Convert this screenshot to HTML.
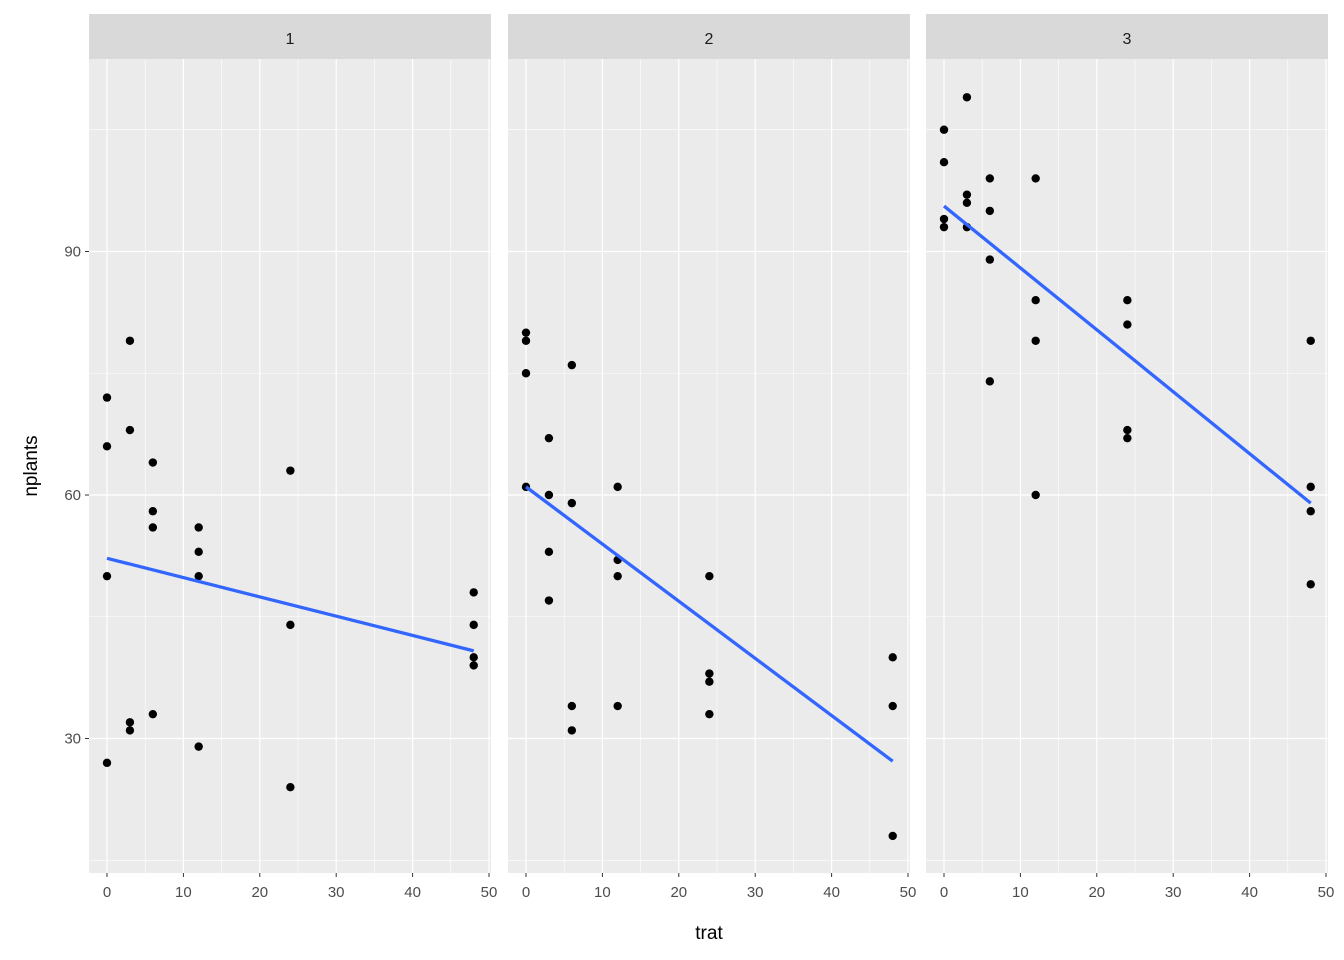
<!DOCTYPE html>
<html><head><meta charset="utf-8"><style>body{margin:0;background:#fff}svg{display:block;font-family:"Liberation Sans",sans-serif}</style></head>
<body>
<svg id="c" width="1344" height="960"></svg>
<script>
const facets=["1","2","3"];
const xTicks=[0,10,20,30,40,50];
const yTicks=[30,60,90];
const xs1=[0,0,0,0,3,3,3,3,6,6,6,6,12,12,12,12,24,24,24,48,48,48,48];
const ys1=[72,66,50,27,79,68,32,31,64,58,56,33,56,53,50,29,63,44,24,48,44,40,39];
const xs2=[0,0,0,0,3,3,3,3,6,6,6,6,12,12,12,12,24,24,24,24,48,48,48];
const ys2=[80,79,75,61,67,60,53,47,76,59,34,31,61,52,50,34,50,38,37,33,40,34,18];
const xs3=[0,0,0,0,3,3,3,3,6,6,6,6,12,12,12,12,24,24,24,24,48,48,48,48];
const ys3=[105,101,94,93,109,97,96,93,99,95,89,74,99,84,79,60,84,81,68,67,79,61,58,49];
const fitStart=[52.2,61,95.6];
const fitEnd=[40.8,27.2,59];
const seriesX=[xs1,xs2,xs3], seriesY=[ys1,ys2,ys3];
const NS="http://www.w3.org/2000/svg";
const svg=document.getElementById('c');
function mk(t,a,p){const e=document.createElementNS(NS,t);for(const k in a)e.setAttribute(k,a[k]);(p||svg).appendChild(e);return e;}
const panelL=[89,508,926], PW=402, plotTop=59, plotBot=873;
function X(i,v){return panelL[i]+18+v*7.64;}
function Y(v){return 495-(v-60)*8.117;}
facets.forEach((f,i)=>{
  const g=mk('g',{});
  
  
  const L=panelL[i];
  const bg=mk('rect',{x:L,y:plotTop,width:PW,height:plotBot-plotTop,fill:'#ebebeb'},g);
  
  
  [15,45,75,105].forEach(v=>{const l=mk('line',{x1:L,x2:L+PW,y1:Y(v),y2:Y(v),stroke:'#fff','stroke-width':0.6},g);});
  [5,15,25,35,45].forEach(v=>{const l=mk('line',{x1:X(i,v),x2:X(i,v),y1:plotTop,y2:plotBot,stroke:'#fff','stroke-width':0.6},g);});
  yTicks.forEach(v=>{const l=mk('line',{x1:L,x2:L+PW,y1:Y(v),y2:Y(v),stroke:'#fff','stroke-width':1.2},g);});
  xTicks.forEach(v=>{const l=mk('line',{x1:X(i,v),x2:X(i,v),y1:plotTop,y2:plotBot,stroke:'#fff','stroke-width':1.2},g);
    const tk=mk('line',{x1:X(i,v),x2:X(i,v),y1:plotBot,y2:plotBot+4,stroke:'#333','stroke-width':1},g);
    const t=mk('text',{x:X(i,v),y:plotBot+24,'text-anchor':'middle','font-size':15,fill:'#4d4d4d'},g);t.textContent=v;});
  const st=mk('rect',{x:L,y:14,width:PW,height:45,fill:'#d9d9d9'},g);
  const stt=mk('text',{x:L+PW/2,y:44,'text-anchor':'middle','font-size':16,fill:'#1a1a1a'},g);stt.textContent=f;
  seriesX[i].forEach((x,j)=>{const c=mk('circle',{cx:X(i,x),cy:Y(seriesY[i][j]),r:4.2,fill:'#000'},g);});
  const ln=mk('line',{x1:X(i,0),y1:Y(fitStart[i]),x2:X(i,48),y2:Y(fitEnd[i]),stroke:'#3366ff','stroke-width':3.3},g);
  
});
yTicks.forEach(v=>{const tk=mk('line',{x1:85,x2:89,y1:Y(v),y2:Y(v),stroke:'#333'});
  const t=mk('text',{x:81,y:Y(v)+5,'text-anchor':'end','font-size':15,fill:'#4d4d4d'});t.textContent=v;});
const xt=mk('text',{x:709,y:939,'text-anchor':'middle','font-size':19,fill:'#000'});xt.textContent='trat';
const yt=mk('text',{x:37,y:466,'text-anchor':'middle','font-size':19,fill:'#000',transform:'rotate(-90 37 466)'});yt.textContent='nplants';
</script>
</body></html>
